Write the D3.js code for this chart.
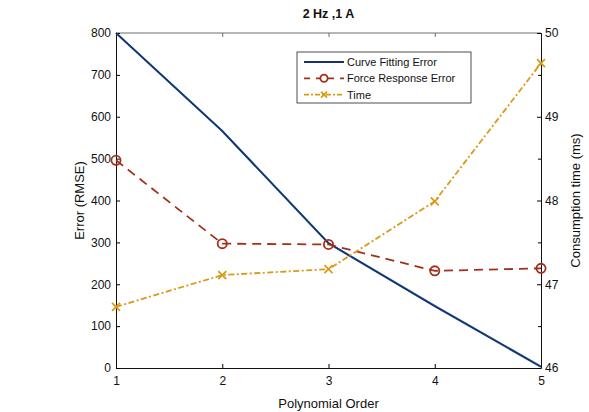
<!DOCTYPE html>
<html>
<head>
<meta charset="utf-8">
<script src="https://cdn.jsdelivr.net/npm/d3@7"></script>
<style>
  body { margin: 0; background: #fff; }
  svg { display: block; font-family: "Liberation Sans", Arial, sans-serif; }
</style>
</head>
<body>
<svg id="chart" width="589" height="412"></svg>
<script>
// Polynomial order vs. error and consumption time
const orders = [1, 2, 3, 4, 5];
const curveFitError = [800, 566, 298, 148, 3];
const forceRespError = [496, 297, 295, 232, 238];
const timeMs = [46.73, 47.11, 47.18, 47.99, 49.64];
const leftTicks = [0, 100, 200, 300, 400, 500, 600, 700, 800];
const rightTicks = [46, 47, 48, 49, 50];
const rightMinorTicks = [46.5, 47.5, 48.5, 49.5];

const svg = d3.select("#chart");
const m = { left: 116, right: 48, top: 33, bottom: 44 };
const W = 589, H = 412;
const iw = W - m.left - m.right, ih = H - m.top - m.bottom;

const x = d3.scaleLinear().domain([1, 5]).range([m.left, m.left + iw]);
const yL = d3.scaleLinear().domain([0, 800]).range([m.top + ih, m.top]);
const yR = d3.scaleLinear().domain([46, 50]).range([m.top + ih, m.top]);

const g = svg.append("g");

// top border
g.append("line").attr("x1", m.left).attr("x2", m.left + iw)
  .attr("y1", m.top).attr("y2", m.top).attr("stroke", "#6e6e6e").attr("stroke-width", 1);

// x axis
g.append("g").attr("transform", `translate(0,${m.top + ih})`)
  .call(d3.axisBottom(x).tickValues(orders).tickFormat(d3.format("d")).tickSizeInner(-4).tickSizeOuter(0).tickPadding(8));
// x ticks on top edge
g.append("g").attr("transform", `translate(0,${m.top})`)
  .call(d3.axisTop(x).tickValues(orders).tickFormat("").tickSizeInner(-4).tickSizeOuter(0))
  .call(s => s.select(".domain").remove())
  .selectAll("line").attr("stroke", "#6e6e6e");

// left axis
g.append("g").attr("transform", `translate(${m.left},0)`)
  .call(d3.axisLeft(yL).tickValues(leftTicks).tickSizeInner(-4).tickSizeOuter(0).tickPadding(5));

// right axis
g.append("g").attr("transform", `translate(${m.left + iw},0)`)
  .call(d3.axisRight(yR).tickValues(rightTicks).tickFormat(d3.format("d")).tickSizeInner(-4).tickSizeOuter(0).tickPadding(4));
g.append("g").attr("transform", `translate(${m.left + iw},0)`)
  .call(d3.axisRight(yR).tickValues(rightMinorTicks).tickFormat("").tickSizeInner(-3).tickSizeOuter(0))
  .call(s => s.select(".domain").remove());

svg.selectAll(".tick text").attr("font-size", 12).attr("fill", "#111");
svg.selectAll(".domain").attr("stroke", "#111");

// series
const lineL = d3.line().x((d, i) => x(orders[i])).y(d => yL(d));
const lineR = d3.line().x((d, i) => x(orders[i])).y(d => yR(d));

const cBlue = "#14306a", cRed = "#a1301b", cOrange = "#d99a17";

g.append("path").datum(curveFitError).attr("d", lineL)
  .attr("fill", "none").attr("stroke", "#3a6aa8").attr("stroke-width", 2.2);
g.append("path").datum(curveFitError).attr("d", lineL)
  .attr("fill", "none").attr("stroke", cBlue).attr("stroke-width", 1.4);

g.append("path").datum(forceRespError).attr("d", lineL)
  .attr("fill", "none").attr("stroke", cRed).attr("stroke-width", 1.8)
  .attr("stroke-dasharray", "9,6");
g.selectAll("circle.fr").data(forceRespError).join("circle").attr("class", "fr")
  .attr("cx", (d, i) => x(orders[i])).attr("cy", d => yL(d)).attr("r", 4.6)
  .attr("fill", "none").attr("stroke", cRed).attr("stroke-width", 1.8);

g.append("path").datum(timeMs).attr("d", lineR)
  .attr("fill", "none").attr("stroke", cOrange).attr("stroke-width", 1.8)
  .attr("stroke-dasharray", "6,2.5,2,2.5");
const cross = (sel, cx, cy, s) => {
  sel.append("path")
    .attr("d", `M${cx - s},${cy - s}L${cx + s},${cy + s}M${cx - s},${cy + s}L${cx + s},${cy - s}`)
    .attr("stroke", cOrange).attr("stroke-width", 1.7).attr("fill", "none");
};
timeMs.forEach((d, i) => cross(g, x(orders[i]), yR(d), 4));

// titles
svg.append("text").attr("x", x(3)).attr("y", 18).attr("text-anchor", "middle")
  .attr("font-size", 12.5).attr("font-weight", "bold").attr("fill", "#111").text("2 Hz ,1 A");
svg.append("text").attr("x", x(3)).attr("y", 408).attr("text-anchor", "middle")
  .attr("font-size", 13).attr("fill", "#111").text("Polynomial Order");
svg.append("text").attr("transform", `translate(84,${m.top + ih / 2}) rotate(-90)`)
  .attr("text-anchor", "middle").attr("font-size", 13).attr("fill", "#111").text("Error (RMSE)");
svg.append("text").attr("transform", `translate(580,${m.top + ih / 2}) rotate(-90)`)
  .attr("text-anchor", "middle").attr("font-size", 13).attr("fill", "#111").text("Consumption time (ms)");

// legend
const lg = svg.append("g").attr("transform", "translate(297,52)");
lg.append("rect").attr("width", 174).attr("height", 51)
  .attr("fill", "#fff").attr("stroke", "#222").attr("stroke-width", 0.8);
const items = [
  { label: "Curve Fitting Error", color: cBlue, dash: null, mark: "dot" },
  { label: "Force Response Error", color: cRed, dash: "6,6", mark: "circle" },
  { label: "Time", color: cOrange, dash: "5,2,2,2", mark: "x" }
];
items.forEach((it, i) => {
  const yy = 10 + i * 16.3;
  lg.append("line").attr("x1", 7).attr("x2", 47).attr("y1", yy).attr("y2", yy)
    .attr("stroke", it.color).attr("stroke-width", 1.8)
    .attr("stroke-dasharray", it.dash);
  if (it.mark === "circle") {
    lg.append("circle").attr("cx", 27).attr("cy", yy).attr("r", 3.6)
      .attr("fill", "#fff").attr("stroke", it.color).attr("stroke-width", 1.8);
  } else if (it.mark === "x") {
    cross(lg, 27, yy, 3);
  }
  lg.append("text").attr("x", 50).attr("y", yy + 4).attr("font-size", 11)
    .attr("fill", "#111").text(it.label);
});
</script>
</body>
</html>
